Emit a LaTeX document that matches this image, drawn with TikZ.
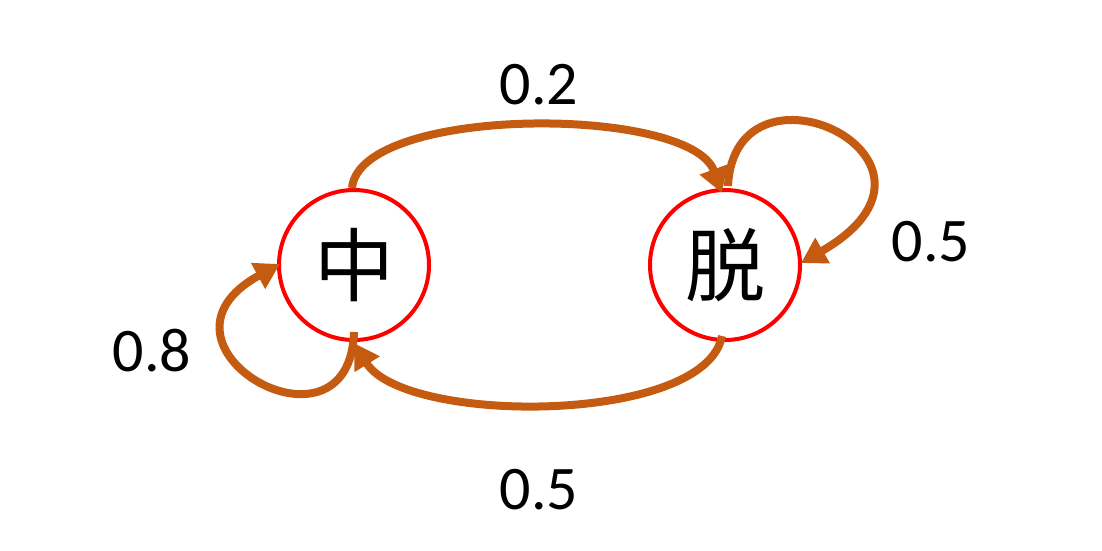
\documentclass[tikz,border=0pt]{standalone}
\usepackage{fontspec}
\setmainfont{Carlito}
\newfontfamily\cjk{Noto Sans CJK SC}
\usetikzlibrary{arrows.meta}
\definecolor{arc}{HTML}{C55A11}
\begin{document}
\begin{tikzpicture}[x=1pt,y=-1pt,
  state/.style={circle,draw=red,line width=4pt,minimum size=150pt,inner sep=0pt,font=\cjk\fontsize{80}{80}\selectfont},
  edge/.style={draw=arc,line width=8pt,-{Triangle[length=25pt,width=28pt]}},
  lab/.style={font=\fontsize{62}{62}\selectfont,inner sep=0pt}]
\useasboundingbox (0,0) rectangle (1102,550);
\node[state] (a) at (354,265) {中};
\node[state] (b) at (725,265) {脱};
\coordinate (a1) at (352,188);
\coordinate (b1) at (722,193);
\coordinate (b2) at (728,186);
\coordinate (b3) at (801,263);
\coordinate (a2) at (354,332);
\coordinate (a3) at (280,264);
\coordinate (b4) at (722,336);
\coordinate (a4) at (354,343);
\draw[edge] (a1) .. controls (360,105) and (690,105) .. (b1);
\draw[edge] (b2) .. controls (735,45) and (980,160) .. (b3);
\draw[edge] (a2) .. controls (350,470) and (132,345) .. (a3);
\draw[edge] (b4) .. controls (705,425) and (405,425) .. (a4);
\node[lab] (l1) at (539,85) {0.2};
\node[lab] (l2) at (931,242) {0.5};
\node[lab] (l3) at (152,351) {0.8};
\node[lab] (l4) at (539,490) {0.5};
\end{tikzpicture}
\end{document}
